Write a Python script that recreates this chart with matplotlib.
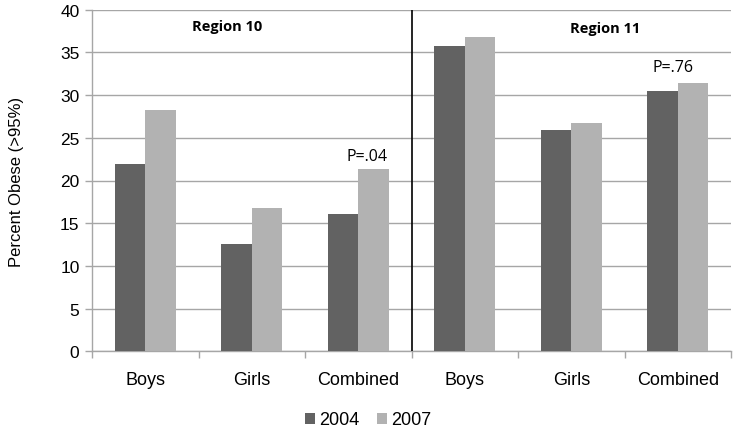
import matplotlib
matplotlib.use("Agg")
import matplotlib.pyplot as plt
import numpy as np

categories = ["Boys", "Girls", "Combined", "Boys", "Girls", "Combined"]
values_2004 = [21.9, 12.6, 16.1, 35.8, 25.9, 30.5]
values_2007 = [28.3, 16.8, 21.3, 36.8, 26.7, 31.4]
series_labels = ["2004", "2007"]
yticks = [0, 5, 10, 15, 20, 25, 30, 35, 40]

c2004 = "#626262"
c2007 = "#b2b2b2"
grid_c = "#a6a6a6"

plt.rcParams['font.family'] = ['Liberation Sans', 'DejaVu Sans']

fig = plt.figure(figsize=(7.38, 4.35), dpi=100)
ax = fig.add_axes([92/738, 1-352.3/435, (731-92)/738, (352.3-10.7)/435])

x = np.arange(len(categories))
w = 0.285
ax.bar(x - w/2, values_2004, w, color=c2004, label=series_labels[0], zorder=3)
ax.bar(x + w/2, values_2007, w, color=c2007, label=series_labels[1], zorder=3)

ax.set_xlim(-0.5, len(categories) - 0.5)
ax.set_ylim(0, 40)
ax.set_yticks(yticks)
ax.yaxis.grid(True, color=grid_c, linewidth=1, zorder=0)
ax.set_axisbelow(True)

ax.set_xticks(x)
ax.set_xticklabels(categories, fontsize=13)
ax.set_xticks(np.arange(-0.5, len(categories)), minor=True)
ax.tick_params(axis='x', which='major', length=0, pad=14)
ax.tick_params(axis='x', which='minor', length=5, color=grid_c, width=1)
ax.tick_params(axis='y', length=5, color=grid_c, width=1, labelsize=12.5, pad=4)

for s in ["top", "right"]:
    ax.spines[s].set_visible(False)
for s in ["left", "bottom"]:
    ax.spines[s].set_color(grid_c)
    ax.spines[s].set_linewidth(1)

ax.axvline(2.5, color="black", linewidth=1.2, zorder=4)

ax.set_ylabel("Percent Obese (>95%)", fontsize=12, labelpad=26)

ax.text(0.77, 38.1, "Region 10", fontsize=10.5, fontweight='bold', ha='center', va='center',
        family=['Open Sans', 'DejaVu Sans'])
ax.text(4.32, 37.8, "Region 11", fontsize=10.5, fontweight='bold', ha='center', va='center',
        family=['Open Sans', 'DejaVu Sans'])
ax.text(2.08, 22.9, "P=.04", fontsize=11.5, ha='center', va='center', family=['Open Sans', 'DejaVu Sans'])
ax.text(4.955, 33.3, "P=.76", fontsize=11.5, ha='center', va='center', family=['Open Sans', 'DejaVu Sans'])

fig.legend(loc='center', bbox_to_anchor=(368/738, 1-421/435), ncol=2, frameon=False,
           fontsize=13, handlelength=0.55, handleheight=0.55, handletextpad=0.2, columnspacing=1.0)

fig.savefig("out.png", dpi=100)
